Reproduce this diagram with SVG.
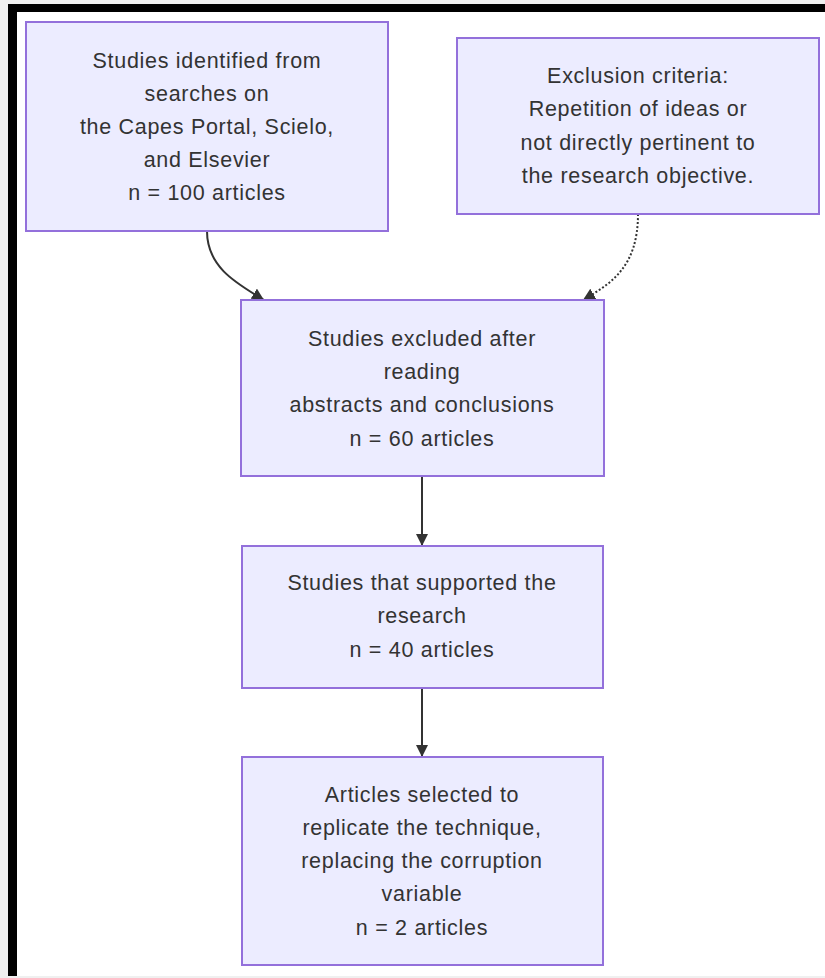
<svg xmlns="http://www.w3.org/2000/svg" width="825" height="978" viewBox="0 0 825 978">
<style>
.node rect{fill:#ECECFF;stroke:#9370DB;stroke-width:2}
.node text{font-family:"Liberation Sans",Arial,sans-serif;font-size:21.5px;letter-spacing:0.7px;fill:#333;text-anchor:middle}
.edge{fill:none;stroke:#333;stroke-width:2}
.dotted{stroke-dasharray:2 2}
</style>
<defs>
<marker id="arrow" viewBox="0 0 10 10" refX="10" refY="5" markerWidth="12" markerHeight="12" markerUnits="userSpaceOnUse" orient="auto">
<path d="M0,0 L10,5 L0,10 z" fill="#333"/>
</marker>
</defs>
<rect x="0" y="0" width="825" height="978" fill="#f0f0f0"/>
<rect x="8" y="4" width="817" height="972" fill="#000"/>
<rect x="17" y="12" width="808" height="964" fill="#fff"/>
<g id="connectors">
<path class="edge" d="M207,231 C207,268 238,284 264,300" marker-end="url(#arrow)"/>
<path class="edge dotted" d="M638,214 C638,268 610,284 583,300" marker-end="url(#arrow)"/>
<path class="edge" d="M422,476 L422,546" marker-end="url(#arrow)"/>
<path class="edge" d="M422,688 L422,757" marker-end="url(#arrow)"/>
</g>
<g id="n1" class="node">
<rect x="26" y="22" width="362" height="209"/>
<text x="207" y="68">Studies identified from</text>
<text x="207" y="101">searches on</text>
<text x="207" y="134">the Capes Portal, Scielo,</text>
<text x="207" y="167">and Elsevier</text>
<text x="207" y="200">n = 100 articles</text>
</g>
<g id="n2" class="node">
<rect x="457" y="38" width="362" height="176"/>
<text x="638" y="83">Exclusion criteria:</text>
<text x="638" y="116">Repetition of ideas or</text>
<text x="638" y="150">not directly pertinent to</text>
<text x="638" y="183">the research objective.</text>
</g>
<g id="n3" class="node">
<rect x="241" y="300" width="363" height="176"/>
<text x="422" y="346">Studies excluded after</text>
<text x="422" y="379">reading</text>
<text x="422" y="412">abstracts and conclusions</text>
<text x="422" y="446">n = 60 articles</text>
</g>
<g id="n4" class="node">
<rect x="242" y="546" width="361" height="142"/>
<text x="422" y="590">Studies that supported the</text>
<text x="422" y="623">research</text>
<text x="422" y="657">n = 40 articles</text>
</g>
<g id="n5" class="node">
<rect x="242" y="757" width="361" height="208"/>
<text x="422" y="802">Articles selected to</text>
<text x="422" y="835">replicate the technique,</text>
<text x="422" y="868">replacing the corruption</text>
<text x="422" y="901">variable</text>
<text x="422" y="935">n = 2 articles</text>
</g>
</svg>
